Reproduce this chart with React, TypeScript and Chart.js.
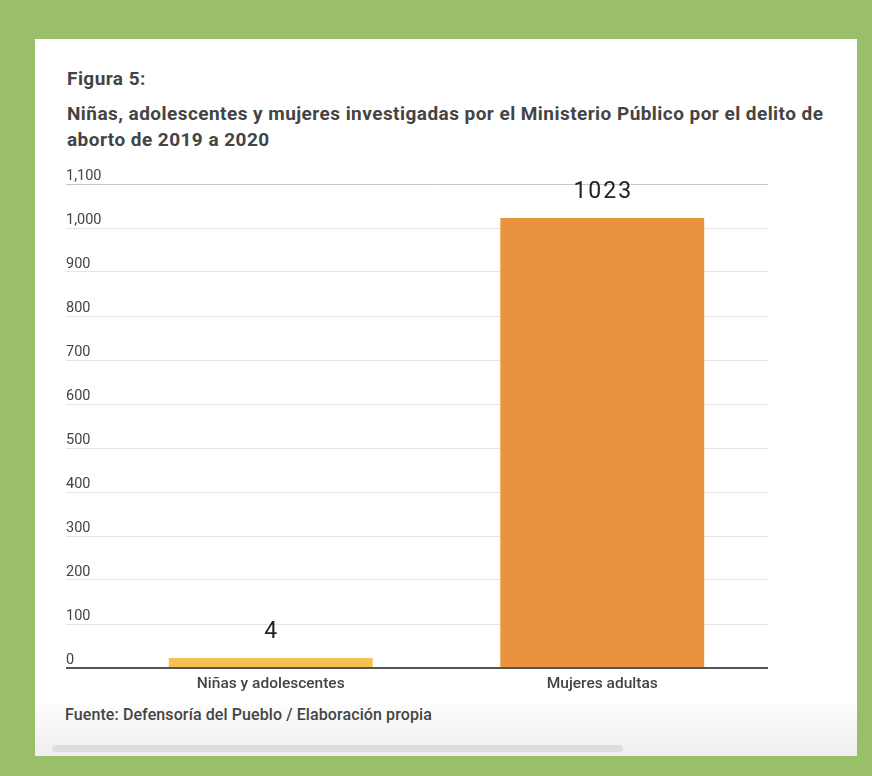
import React, { useEffect, useRef } from "react";
import { Chart, registerables } from "chart.js";

Chart.register(...registerables);

const categories: string[] = ["Niñas y adolescentes", "Mujeres adultas"];
const values: number[] = [4, 1023];
const barColors: string[] = ["#f5c24f", "#ea933e"];
const yTickMax = 1100;
const yTickStep = 100;
const figureLabel = "Figura 5:";
const titleLines: string[] = [
  "Niñas, adolescentes y mujeres investigadas por el Ministerio Público por el delito de",
  "aborto de 2019 a 2020",
];
const sourceText = "Fuente: Defensoría del Pueblo / Elaboración propia";

const barLabelPlugin = {
  id: "barLabels",
  afterDatasetsDraw(chart: any) {
    const ctx = chart.ctx;
    const meta = chart.getDatasetMeta(0);
    ctx.save();
    ctx.font = "23px Roboto";
    ctx.fillStyle = "#222222";
    ctx.textAlign = "center";
    ctx.textBaseline = "middle";
    try {
      (ctx as any).letterSpacing = "2px";
    } catch (e) {}
    meta.data.forEach((el: any, i: number) => {
      const v = chart.data.datasets[0].data[i];
      ctx.fillText(String(v), el.x + 1, el.y - 25.5);
    });
    ctx.restore();
  },
};

export default function App() {
  const canvasRef = useRef<HTMLCanvasElement | null>(null);

  useEffect(() => {
    if (!canvasRef.current) return;
    const chart = new Chart(canvasRef.current, {
      type: "bar",
      data: {
        labels: categories,
        datasets: [
          {
            data: values,
            backgroundColor: barColors,
            borderWidth: 0,
            barPercentage: 0.615,
            categoryPercentage: 1,
            minBarLength: 10,
          },
        ],
      },
      plugins: [barLabelPlugin],
      options: {
        animation: false,
        responsive: false,
        maintainAspectRatio: false,
        layout: { padding: { top: 24, left: 0, right: 0, bottom: 0 } },
        plugins: {
          legend: { display: false },
          tooltip: { enabled: false },
          title: { display: false },
        },
        scales: {
          x: {
            grid: { display: false, drawTicks: false },
            border: { display: true, color: "#555555", width: 2 },
            ticks: {
              color: "#444444",
              font: { family: "Roboto", size: 15.5, weight: 500 },
              padding: 7,
            },
            afterFit: (scale: any) => {
              scale.height = 32;
            },
          },
          y: {
            min: 0,
            max: yTickMax,
            border: { display: false },
            grid: {
              drawTicks: true,
              tickLength: 39,
              color: (c: any) =>
                c.tick && c.tick.value === 0
                  ? "#555555"
                  : c.tick && c.tick.value === yTickMax
                  ? "#c6c6c6"
                  : "#e4e4e4",
              lineWidth: (c: any) => (c.tick && c.tick.value === 0 ? 2 : 1),
            },
            ticks: {
              stepSize: yTickStep,
              crossAlign: "far",
              padding: 0,
              labelOffset: -8,
              color: "#444444",
              font: { family: "Roboto", size: 14.5 },
              callback: (v: any) => Number(v).toLocaleString("en-US"),
            },
            afterFit: (scale: any) => {
              scale.width = 39;
            },
          },
        },
      },
    } as any);
    return () => chart.destroy();
  }, []);

  return (
    <div
      style={{
        position: "absolute",
        left: 0,
        top: 0,
        width: 872,
        height: 776,
        background: "#9abf6a",
        overflow: "hidden",
        fontFamily: "Roboto, sans-serif",
      }}
    >
      <div
        style={{
          position: "absolute",
          left: 35,
          top: 39,
          width: 822,
          height: 717,
          background:
            "linear-gradient(to bottom, #ffffff 0px, #ffffff 660px, #eeeeee 717px)",
        }}
      />
      <div
        style={{
          position: "absolute",
          left: 67,
          top: 65.5,
          fontSize: 19,
          lineHeight: "26px",
          fontWeight: 700,
          letterSpacing: "0.45px",
          color: "#444444",
          whiteSpace: "nowrap",
        }}
      >
        {figureLabel}
      </div>
      <div
        style={{
          position: "absolute",
          left: 67,
          top: 100.5,
          fontSize: 19,
          lineHeight: "26px",
          fontWeight: 700,
          letterSpacing: "0.45px",
          color: "#444444",
          whiteSpace: "nowrap",
        }}
      >
        {titleLines.map((t, i) => (
          <div key={i}>{t}</div>
        ))}
      </div>
      <canvas
        ref={canvasRef}
        width={702}
        height={540}
        style={{ position: "absolute", left: 66, top: 160, width: 702, height: 540 }}
      />
      <div
        style={{
          position: "absolute",
          left: 65,
          top: 706,
          fontSize: 16,
          lineHeight: "18px",
          fontWeight: 500,
          letterSpacing: "0.1px",
          color: "#444444",
          whiteSpace: "nowrap",
        }}
      >
        {sourceText}
      </div>
      <div
        style={{
          position: "absolute",
          left: 52,
          top: 745,
          width: 571,
          height: 7,
          borderRadius: 4,
          background: "#dedede",
        }}
      />
    </div>
  );
}
